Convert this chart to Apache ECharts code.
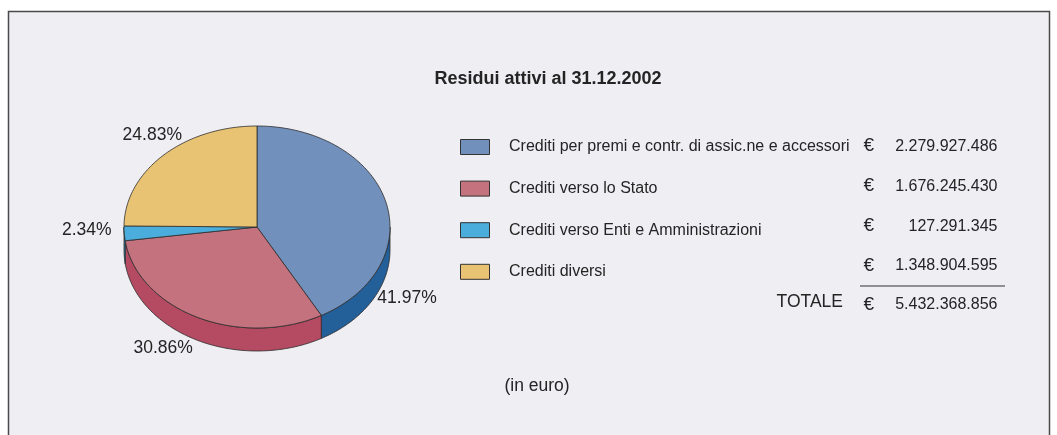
<!DOCTYPE html>
<html>
<head>
<meta charset="utf-8">
<title>Residui attivi al 31.12.2002</title>
<script src="https://cdn.jsdelivr.net/npm/echarts@6/dist/echarts.min.js"></script>
<style>
  html, body { margin: 0; padding: 0; background: #fff; }
  #chart { width: 1057px; height: 435px; }
</style>
</head>
<body>
<div id="chart"></div>
<script>
// dati
const categories = [
    'Crediti per premi e contr. di assic.ne e accessori',
    'Crediti verso lo Stato',
    'Crediti verso Enti e Amministrazioni',
    'Crediti diversi'
];
const values = [2279927486, 1676245430, 127291345, 1348904595];
const totalLabel = 'TOTALE';
const unitLabel = '(in euro)';
const titleText = 'Residui attivi al 31.12.2002';

// colori (faccia superiore / fianco)
const topColors = ['#7190bb', '#c4727e', '#4aaddb', '#e8c373'];
const sideColors = ['#235f98', '#b44b62', '#2d86b8', '#c9a050'];

// posizione etichette percentuali (angolo in gradi dall'alto, fattore raggio)
const labelAngles = [122, 210.5, 268.7, 319];
const labelRadii = [1.33, 1.39, 1.28, 1.2];

// geometria torta
const cx = 257, cy = 227, rx = 133, ry = 101, depth = 23;
const FONT = '"Liberation Sans", Arial, Helvetica, sans-serif';
const TEXT = '#242424';
const EDGE = '#2b2b2b';

const total = values.reduce((a, b) => a + b, 0);
const fmt = v => String(v).replace(/\B(?=(\d{3})+(?!\d))/g, '.');

function pt(deg, dy) {
    const r = deg * Math.PI / 180;
    return [cx + rx * Math.sin(r), cy - ry * Math.cos(r) + (dy || 0)];
}
function arc(a0, a1, dy) {
    const pts = [];
    for (let a = a0; a < a1; a += 1) pts.push(pt(a, dy));
    pts.push(pt(a1, dy));
    return pts;
}

function renderItem(params, api) {
    const i = params.dataIndex;
    let before = 0;
    for (let j = 0; j < i; j++) before += values[j];
    const a0 = before / total * 360;
    const a1 = (before + values[i]) / total * 360;
    const children = [];

    // fianco visibile (solo la metà anteriore)
    const s0 = Math.max(a0, 90), s1 = Math.min(a1, 270);
    if (s1 > s0) {
        const pts = arc(s0, s1, 0).concat(arc(s0, s1, depth).reverse());
        children.push({
            type: 'polygon', z2: 1,
            shape: { points: pts },
            style: { fill: sideColors[i], stroke: EDGE, lineWidth: 0.8 }
        });
    }
    // faccia superiore
    children.push({
        type: 'polygon', z2: 10,
        shape: { points: [[cx, cy]].concat(arc(a0, a1, 0)) },
        style: { fill: topColors[i], stroke: EDGE, lineWidth: 0.8 }
    });
    // etichetta
    const lp = labelAngles[i] * Math.PI / 180;
    const rr = labelRadii[i];
    children.push({
        type: 'text', z2: 20,
        x: cx + rx * rr * Math.sin(lp),
        y: cy - ry * rr * Math.cos(lp),
        style: {
            text: (values[i] / total * 100).toFixed(2) + '%',
            fill: TEXT, fontSize: 17.5, fontFamily: FONT,
            align: 'center', verticalAlign: 'middle'
        }
    });
    return { type: 'group', children: children };
}

// legenda e tabella importi
const graphics = [];
graphics.push({
    type: 'rect', z: -10,
    shape: { x: 8.5, y: 11.5, width: 1041, height: 440 },
    style: { fill: '#efeef3', stroke: '#4a4a4a', lineWidth: 1.5 }
});
categories.forEach((c, i) => {
    const ly = 147 + i * 41.6;
    const vy = 146.5 + i * 39.8;
    graphics.push({
        type: 'rect',
        shape: { x: 460.5, y: ly - 7.5, width: 29, height: 15 },
        style: { fill: topColors[i], stroke: '#333', lineWidth: 1 }
    });
    graphics.push({
        type: 'text', x: 509, y: ly,
        style: { text: c, fill: TEXT, fontSize: 16, fontFamily: FONT, align: 'left', verticalAlign: 'middle' }
    });
    graphics.push({
        type: 'text', x: 863.5, y: vy - 0.5,
        style: { text: '€', fill: TEXT, fontSize: 19, fontFamily: FONT, align: 'left', verticalAlign: 'middle' }
    });
    graphics.push({
        type: 'text', x: 997.5, y: vy,
        style: { text: fmt(values[i]), fill: TEXT, fontSize: 16, fontFamily: FONT, align: 'right', verticalAlign: 'middle' }
    });
});
graphics.push({
    type: 'line',
    shape: { x1: 860, y1: 286, x2: 1005, y2: 286 },
    style: { stroke: '#333', lineWidth: 1.2 }
});
graphics.push({
    type: 'text', x: 843, y: 302.5,
    style: { text: totalLabel, fill: TEXT, fontSize: 17.5, fontFamily: FONT, align: 'right', verticalAlign: 'middle' }
});
graphics.push({
    type: 'text', x: 863.5, y: 304.5,
    style: { text: '€', fill: TEXT, fontSize: 19, fontFamily: FONT, align: 'left', verticalAlign: 'middle' }
});
graphics.push({
    type: 'text', x: 997.5, y: 304.5,
    style: { text: fmt(total), fill: TEXT, fontSize: 16, fontFamily: FONT, align: 'right', verticalAlign: 'middle' }
});
graphics.push({
    type: 'text', x: 537, y: 386.5,
    style: { text: unitLabel, fill: TEXT, fontSize: 17.5, fontFamily: FONT, align: 'center', verticalAlign: 'middle' }
});

const chart = echarts.init(document.getElementById('chart'));
chart.setOption({
    backgroundColor: '#ffffff',
    animation: false,
    title: {
        text: titleText,
        left: 543,
        top: 65,
        textAlign: 'center',
        textStyle: { fontSize: 18, fontWeight: 'bold', fontFamily: FONT, color: TEXT }
    },
    graphic: graphics,
    series: [{
        type: 'custom',
        coordinateSystem: 'none',
        renderItem: renderItem,
        data: values.map((v, i) => ({ name: categories[i], value: v }))
    }]
});
</script>
</body>
</html>
